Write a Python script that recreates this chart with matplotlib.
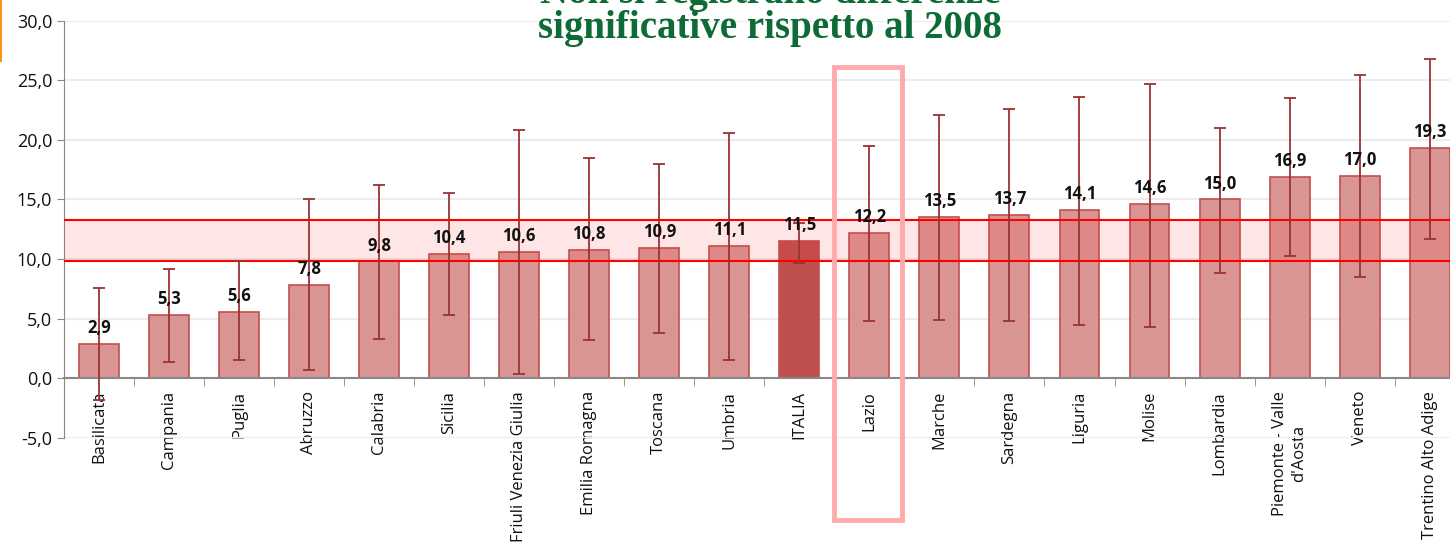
import numpy as np
import matplotlib.pyplot as plt
from matplotlib.patches import Rectangle
from matplotlib.ticker import FuncFormatter, FixedLocator

regions = ["Basilicata", "Campania", "Puglia", "Abruzzo", "Calabria", "Sicilia",
           "Friuli Venezia Giulia", "Emilia Romagna", "Toscana", "Umbria", "ITALIA",
           "Lazio", "Marche", "Sardegna", "Liguria", "Molise", "Lombardia",
           "Piemonte - Valle\nd'Aosta", "Veneto", "Trentino Alto Adige"]
values = [2.9, 5.3, 5.6, 7.8, 9.8, 10.4, 10.6, 10.8, 10.9, 11.1, 11.5,
          12.2, 13.5, 13.7, 14.1, 14.6, 15.0, 16.9, 17.0, 19.3]
upper = [7.6, 9.2, 9.8, 15.0, 16.2, 15.5, 20.8, 18.5, 18.0, 20.6, 13.0,
         19.5, 22.1, 22.6, 23.6, 24.7, 21.0, 23.5, 25.4, 26.8]
lower = [-1.8, 1.4, 1.5, 0.7, 3.3, 5.3, 0.4, 3.2, 3.8, 1.5, 9.7,
         4.8, 4.9, 4.8, 4.5, 4.3, 8.8, 10.3, 8.5, 11.7]
band_low, band_high = 9.8, 13.3
highlight = "Lazio"

plt.rcParams['font.family'] = ['Open Sans', 'DejaVu Sans']

fig = plt.figure(figsize=(14.5, 5.5), dpi=100)
ax = fig.add_axes([0.0441, 0.2036, 0.9559, 0.7591])

x = np.arange(len(regions))
vals = np.array(values)
colors = ['#c0504d' if r == 'ITALIA' else '#d99594' for r in regions]
ax.bar(x, vals, width=0.57, color=colors, edgecolor='#c0504d', linewidth=1.2, zorder=2)

err = [vals - np.array(lower), np.array(upper) - vals]
ax.errorbar(x, vals, yerr=err, fmt='none', ecolor='#9b3333', elinewidth=1.3,
            capsize=4, capthick=1.3, zorder=5)

# confidence band of Italy
ax.add_patch(Rectangle((-0.5, band_low), 25, band_high - band_low,
                       facecolor=(1.0, 0.2, 0.2, 0.12), edgecolor='none', zorder=3))
ax.axhline(band_low, color='#ff0000', lw=1.5, zorder=4)
ax.axhline(band_high, color='#ff0000', lw=1.5, zorder=4)

for xi, v in zip(x, values):
    ax.annotate(f"{v:.1f}".replace('.', ','), (xi, v), xytext=(0, 5),
                textcoords='offset points', ha='center', va='bottom',
                fontsize=12, fontweight='bold', color='#111111', zorder=6)

# box around the highlighted region
hi = regions.index(highlight)
ax.add_patch(Rectangle((hi - 0.5, -11.9), 0.97, 38.0, fill=False,
                       edgecolor='#ffabab', lw=3.5, clip_on=False, zorder=7))

ax.set_xlim(-0.5, 19.29)
ax.set_ylim(-5, 30)
ax.set_yticks(np.arange(-5, 31, 5))
ax.yaxis.set_major_formatter(FuncFormatter(lambda v, p: f"{v:.1f}".replace('.', ',')))
ax.tick_params(axis='y', labelsize=13, colors='#888888', labelcolor='#111111', length=5)
ax.yaxis.grid(True, color='#ececec', lw=1.5, zorder=0)
ax.set_axisbelow(True)

ax.spines['bottom'].set_position(('data', 0))
ax.spines['bottom'].set_color('#888888')
ax.spines['bottom'].set_linewidth(1.5)
ax.spines['left'].set_color('#888888')
ax.spines['top'].set_visible(False)
ax.spines['right'].set_visible(False)

ax.set_xticks(x)
ax.set_xticklabels(regions, rotation=90, fontsize=12, color='#111111',
                   ha='center', va='top', multialignment='center')
ax.tick_params(axis='x', which='major', length=0, pad=9)
ax.xaxis.set_minor_locator(FixedLocator(np.arange(0.5, 19.5, 1)))
ax.tick_params(axis='x', which='minor', length=6, color='#888888', direction='out')

# title, partly cut off at the top as in the original slide
fig.text(0.531, 0.994, "Non si registrano differenze", ha='center', va='baseline',
         fontsize=28, fontweight='bold', color='#0d6b35', family='Liberation Serif')
fig.text(0.531, 0.931, "significative rispetto al 2008", ha='center', va='baseline',
         fontsize=28, fontweight='bold', color='#0d6b35', family='Liberation Serif')

fig.add_artist(plt.Line2D([0.001, 0.001], [0.89, 1.0], color='#f7941d', lw=1.5))

fig.savefig('out.png', dpi=100)
